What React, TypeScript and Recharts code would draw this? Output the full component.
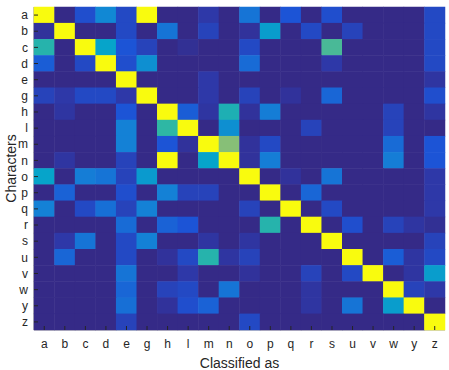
import { ScatterChart, Scatter, XAxis, YAxis, Label } from 'recharts';

const letters = ['a', 'b', 'c', 'd', 'e', 'g', 'h', 'l', 'm', 'n', 'o', 'p', 'q', 'r', 's', 'u', 'v', 'w', 'y', 'z'];

// normalised confusion values, one row per true character
const confusion: number[][] = [
  [1, 0, .09, .22, .08, 1, 0, 0, .05, 0, .17, 0, .1, 0, .09, 0, 0, 0, 0, .08],
  [.03, 1, 0, 0, .08, 0, .17, 0, .07, 0, .03, .28, 0, .08, 0, .07, 0, 0, 0, .08],
  [.38, 0, 1, .3, .1, .07, 0, .02, 0, 0, .08, 0, 0, 0, .43, 0, 0, 0, 0, .08],
  [.12, 0, .08, 1, .09, .24, 0, 0, 0, 0, .15, 0, 0, 0, .05, 0, 0, 0, 0, .08],
  [0, 0, 0, 0, 1, 0, 0, 0, .05, 0, 0, 0, 0, 0, 0, 0, 0, 0, 0, .04],
  [.07, .05, .08, .08, .05, 1, 0, 0, .05, 0, .07, 0, .03, 0, .14, 0, 0, 0, 0, .09],
  [0, .04, 0, 0, .1, 0, 1, .12, .04, .36, .03, .19, 0, 0, 0, 0, 0, .07, 0, .04],
  [0, 0, 0, 0, .2, 0, .4, 1, 0, .24, 0, 0, 0, .07, 0, 0, 0, .07, 0, 0],
  [0, 0, 0, 0, .2, 0, .1, .03, 1, .5, .03, .08, 0, 0, 0, 0, 0, .15, 0, .1],
  [0, .04, 0, 0, .07, 0, 1, 0, .3, 1, .03, .19, 0, 0, 0, 0, 0, .19, 0, .1],
  [.3, 0, .19, .17, .07, .27, 0, 0, 0, 0, 1, 0, .03, 0, .17, 0, 0, 0, 0, .05],
  [0, .13, 0, 0, .09, 0, .2, .07, .07, 0, 0, 1, 0, .14, 0, 0, 0, 0, 0, .05],
  [.2, 0, .08, .16, .07, .2, 0, 0, 0, 0, .07, 0, 1, 0, .08, 0, 0, 0, 0, .05],
  [0, 0, 0, 0, .15, 0, .13, .1, 0, 0, 0, .38, 0, 1, 0, .09, 0, .07, .04, .02],
  [0, .05, .17, 0, .08, .2, 0, 0, .04, 0, .04, 0, 0, 0, 1, 0, 0, 0, 0, .07],
  [0, .14, 0, 0, .08, 0, .03, .08, .38, .04, .07, 0, 0, 0, 0, 1, 0, .12, .04, .08],
  [0, 0, 0, 0, .17, 0, 0, .05, 0, 0, .03, 0, 0, .07, 0, .08, 1, 0, .04, .28],
  [0, 0, 0, 0, .14, 0, .07, .08, 0, .17, 0, 0, 0, .04, 0, 0, 0, 1, .07, .05],
  [0, 0, 0, 0, .16, 0, .03, .09, .13, 0, 0, 0, 0, .04, 0, .17, 0, .28, 1, 0],
  [0, 0, 0, 0, .07, 0, 0, 0, 0, 0, .08, 0, 0, 0, 0, 0, 0, 0, 0, 1],
];

const tickIdx = letters.map((_, i) => i);

// parula-ish colour stops [position, r, g, b]
const STOPS: [number, number, number, number][] = [
  [0, 53, 42, 135], [0.05, 46, 56, 168], [0.1, 28, 84, 214], [0.2, 20, 129, 214],
  [0.3, 6, 164, 202], [0.4, 46, 183, 164], [0.5, 135, 191, 119], [0.6, 209, 187, 89],
  [0.7, 254, 200, 50], [0.8, 245, 218, 35], [0.9, 245, 235, 24], [1, 249, 251, 14],
];

function parula(v: number): string {
  const t = Math.max(0, Math.min(1, v));
  let i = 0;
  while (i < STOPS.length - 2 && t > STOPS[i + 1][0]) i++;
  const a = STOPS[i];
  const b = STOPS[i + 1];
  const f = (t - a[0]) / (b[0] - a[0]);
  const c = [1, 2, 3].map((k) => Math.round(a[k] + (b[k] - a[k]) * f));
  return `rgb(${c[0]},${c[1]},${c[2]})`;
}

const W = 449;
const H = 370;
const M = { top: 7, right: 4, left: 0, bottom: 0 };
const Y_AXIS_W = 34;
const X_AXIS_H = 40;
const CELL_W = (W - M.left - M.right - Y_AXIS_W) / letters.length;
const CELL_H = (H - M.top - M.bottom - X_AXIS_H) / letters.length;
const GAP = 9;

const cells = confusion.flatMap((row, r) => row.map((v, c) => ({ x: c, y: r, v })));

const Cell = (props: any) => {
  const { cx, cy, payload } = props;
  return (
    <rect
      x={cx - CELL_W / 2 - 0.25}
      y={cy - CELL_H / 2 - 0.25}
      width={CELL_W + 0.5}
      height={CELL_H + 0.5}
      fill={parula(payload.v)}
    />
  );
};

const XTick = (props: any) => {
  const { x, y, payload } = props;
  return (
    <g>
      <line x1={x} x2={x} y1={y - GAP} y2={y - GAP - 4} stroke="#262626" strokeWidth={1} />
      <text x={x} y={y} dy="0.71em" textAnchor="middle" fontSize={12} fill="#262626">
        {letters[payload.value]}
      </text>
    </g>
  );
};

const YTick = (props: any) => {
  const { x, y, payload } = props;
  return (
    <g>
      <line x1={x + 6} x2={x + 10} y1={y} y2={y} stroke="#262626" strokeWidth={1} />
      <text x={x} y={y} dy="0.35em" textAnchor="end" fontSize={12} fill="#262626">
        {letters[payload.value]}
      </text>
    </g>
  );
};

export default function App() {
  return (
    <div style={{ position: 'absolute', left: 0, top: 0, width: W, height: H, background: '#fff', fontFamily: '"Liberation Sans", Arial, sans-serif' }}>
      <ScatterChart width={W} height={H} margin={M}>
        <XAxis
          type="number"
          dataKey="x"
          domain={[-0.5, 19.5]}
          ticks={tickIdx}
          interval={0}
          height={X_AXIS_H}
          tickSize={0}
          tickMargin={GAP}
          tick={<XTick />}
          axisLine={{ stroke: '#a0a0a0' }}
        >
          <Label value="Classified as" position="insideBottom" offset={2} fontSize={14} fill="#262626" />
        </XAxis>
        <YAxis
          type="number"
          dataKey="y"
          reversed
          domain={[-0.5, 19.5]}
          ticks={tickIdx}
          interval={0}
          width={Y_AXIS_W}
          tickSize={0}
          tickMargin={6}
          tick={<YTick />}
          axisLine={{ stroke: '#808080' }}
        >
          <Label value="Characters" angle={-90} position="insideLeft" offset={11} fontSize={14} fill="#262626" style={{ textAnchor: 'middle' }} />
        </YAxis>
        <Scatter data={cells} shape={<Cell />} isAnimationActive={false} />
      </ScatterChart>
    </div>
  );
}
